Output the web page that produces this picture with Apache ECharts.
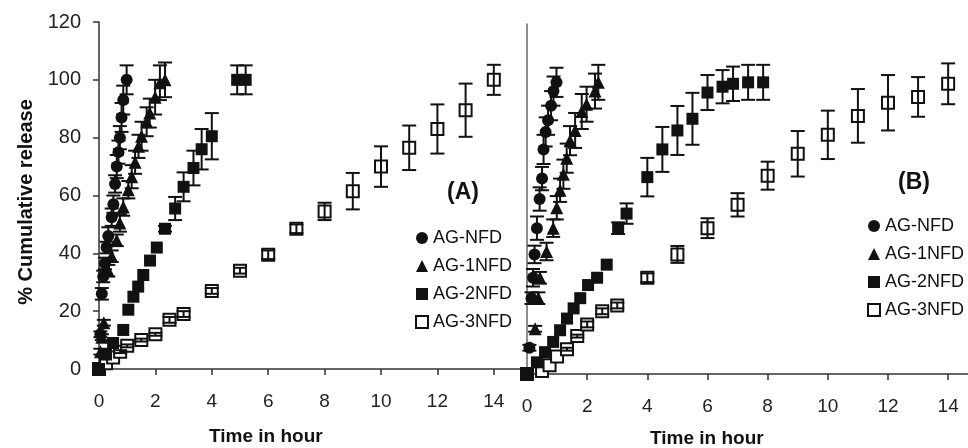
<!DOCTYPE html>
<html>
<head>
<meta charset="utf-8">
<script src="https://cdn.jsdelivr.net/npm/echarts@6/dist/echarts.min.js"></script>
<style>
  html, body { margin: 0; padding: 0; background: #fff; }
  #chart { width: 968px; height: 448px; }
</style>
</head>
<body>
<div id="chart"></div>
<script>
var seriesNames = ['AG-NFD', 'AG-1NFD', 'AG-2NFD', 'AG-3NFD'];
var xTicks = [0, 2, 4, 6, 8, 10, 12, 14];

// panel (A)
var aNfdT = [0, 0.05, 0.1, 0.15, 0.21, 0.27, 0.33, 0.45, 0.51, 0.57, 0.63, 0.69, 0.74, 0.8, 0.86, 0.98];
var aNfdV = [0, 12, 26, 32, 36.5, 42, 46, 52.5, 57, 64, 70, 75, 80, 87, 93, 100];
var aNfdE = [0, 1, 2, 2, 2, 2, 3, 3, 3, 3, 4, 4, 4, 5, 5, 5];

var a1NfdT = [0, 0.05, 0.1, 0.17, 0.33, 0.45, 0.63, 0.74, 0.86, 1.04, 1.16, 1.28, 1.4, 1.51, 1.69, 1.8, 1.99, 2.16, 2.34];
var a1NfdV = [0, 6, 11, 16, 34, 39, 44.5, 50.5, 56, 62, 66.5, 71.5, 77, 80.5, 85.5, 88.5, 94, 99, 100];
var a1NfdE = [0, 1, 1, 1, 2, 2, 2, 3, 3, 3, 4, 4, 4, 5, 5, 5, 6, 6, 6];

var a2NfdT = [0, 0.25, 0.5, 0.86, 1.04, 1.22, 1.39, 1.57, 1.81, 2.05, 2.34, 2.7, 3.0, 3.35, 3.64, 4.0, 4.9, 5.2];
var a2NfdV = [0, 5, 9, 13.5, 20.5, 25, 28.5, 32.5, 37.5, 42, 48.5, 55.5, 63, 69.5, 76, 80.5, 100, 100];
var a2NfdE = [0, 0, 0, 0, 0, 0, 0, 0, 0, 0, 1, 4, 5, 6, 7, 8, 5, 5];

var a3NfdT = [0, 0.25, 0.5, 0.75, 1, 1.5, 2, 2.5, 3, 4, 5, 6, 7, 8, 9, 10, 11, 12, 13, 14];
var a3NfdV = [0, 2, 4, 6, 8, 10, 12, 17, 19, 27, 34, 39.5, 48.5, 54.5, 61.5, 70, 76.5, 83, 89.5, 100];
var a3NfdE = [0, 0, 0, 0.5, 0.5, 0.5, 0.5, 1, 1, 1, 1, 1.5, 1.5, 3, 6.3, 7, 7.7, 8.5, 9.2, 5.2];

// panel (B)
var bNfdT = [0, 0.08, 0.15, 0.2, 0.25, 0.33, 0.42, 0.5, 0.55, 0.62, 0.7, 0.8, 0.88, 0.98];
var bNfdV = [0, 9, 26, 33, 41, 50, 60, 67, 77, 83, 87, 92, 97, 100];
var bNfdE = [0, 1, 2, 3, 3, 4, 4, 4, 5, 5, 5, 5, 5, 5];

var b1NfdT = [0, 0.27, 0.38, 0.43, 0.65, 0.87, 0.99, 1.1, 1.21, 1.32, 1.43, 1.6, 1.82, 1.98, 2.26, 2.37];
var b1NfdV = [0, 15.5, 26, 33, 42, 50, 57, 63, 68.5, 74, 80, 83.5, 90, 92.5, 97, 100];
var b1NfdE = [0, 1, 2, 2, 3, 3, 4, 4, 5, 5, 5, 6, 6, 6, 6, 6];

var b2NfdT = [0, 0.33, 0.6, 0.87, 1.1, 1.33, 1.55, 1.77, 2.03, 2.33, 2.65, 3.03, 3.31, 4, 4.5, 5, 5.5, 6, 6.5, 6.85, 7.35, 7.85];
var b2NfdV = [0, 4, 7.5, 11, 15, 19, 22.5, 26, 30.5, 33, 37.5, 50, 55, 67.5, 77, 83.5, 87.5, 96.5, 98.5, 99.5, 100, 100];
var b2NfdE = [0, 0, 0, 0, 0, 0, 0, 0, 0, 0, 0, 2, 3.5, 6.6, 7.7, 8.4, 8.9, 6, 5.7, 5.9, 6, 6];

var b3NfdT = [0, 0.5, 0.75, 1, 1.33, 1.67, 2, 2.5, 3, 4, 5, 6, 7, 8, 9, 10, 11, 12, 13, 14];
var b3NfdV = [0, 1, 3, 6, 8.5, 13, 17, 21.5, 23.5, 33, 41, 50, 58, 68, 75.5, 82, 88.5, 93, 95, 99.5];
var b3NfdE = [0, 0, 0, 0, 0.5, 0.5, 1, 1, 1, 1.5, 2.9, 3.4, 4, 4.8, 7.8, 8.3, 9.2, 9.5, 6.8, 7];

var ink = '#111';
var font = 'Liberation Sans, Arial, sans-serif';

function pts(t, v, e) {
    return t.map(function (x, i) { return [x, v[i], e[i]]; });
}

function errorBars(params, api) {
    var e = api.value(2);
    if (!e) return null;
    var x = api.value(0), y = api.value(1);
    var hi = api.coord([x, y + e]);
    var lo = api.coord([x, y - e]);
    var w = 7;
    var st = { stroke: ink, lineWidth: 2 };
    return {
        type: 'group',
        children: [
            { type: 'line', shape: { x1: hi[0], y1: hi[1], x2: lo[0], y2: lo[1] }, style: st },
            { type: 'line', shape: { x1: hi[0] - w, y1: hi[1], x2: hi[0] + w, y2: hi[1] }, style: st },
            { type: 'line', shape: { x1: lo[0] - w, y1: lo[1], x2: lo[0] + w, y2: lo[1] }, style: st }
        ]
    };
}

var symbols = ['circle', 'triangle', 'rect', 'rect'];
var sizes = [12, 13, 12, 12];
var styles = [
    { color: ink, opacity: 1 },
    { color: ink, opacity: 1 },
    { color: ink, opacity: 1 },
    { color: '#fff', borderColor: ink, borderWidth: 2, opacity: 1 }
];

var panels = [
    [pts(aNfdT, aNfdV, aNfdE), pts(a1NfdT, a1NfdV, a1NfdE), pts(a2NfdT, a2NfdV, a2NfdE), pts(a3NfdT, a3NfdV, a3NfdE)],
    [pts(bNfdT, bNfdV, bNfdE), pts(b1NfdT, b1NfdV, b1NfdE), pts(b2NfdT, b2NfdV, b2NfdE), pts(b3NfdT, b3NfdV, b3NfdE)]
];

// open squares first so the filled marks sit on top of them
var drawOrder = [3, 0, 1, 2];
var series = [];
panels.forEach(function (panel, p) {
    drawOrder.forEach(function (k) {
        var data = panel[k];
        series.push({
            name: seriesNames[k],
            type: 'scatter',
            xAxisIndex: p,
            yAxisIndex: p,
            symbol: symbols[k],
            symbolSize: sizes[k],
            itemStyle: styles[k],
            data: data,
            z: 2
        });
        series.push({
            type: 'custom',
            xAxisIndex: p,
            yAxisIndex: p,
            renderItem: errorBars,
            encode: { x: 0, y: 1 },
            data: data,
            silent: true,
            z: 3
        });
    });
});

function xLabel(v) {
    return xTicks.indexOf(v) >= 0 ? String(v) : '';
}

var xAxisCommon = {
    type: 'value',
    min: 0,
    interval: 2,
    splitLine: { show: false },
    axisLine: { onZero: false, lineStyle: { color: '#333', width: 1.5 } },
    axisTick: { length: 6, lineStyle: { color: '#333', width: 1.5 } },
    axisLabel: { formatter: xLabel, color: '#222', fontSize: 19, fontFamily: font, margin: 23, showMaxLabel: false }
};

var legendCommon = {
    data: seriesNames, orient: 'vertical',
    itemWidth: 12, itemHeight: 12, itemGap: 10,
    textStyle: { fontSize: 18, fontFamily: font, color: ink }
};

var chart = echarts.init(document.getElementById('chart'));
chart.setOption({
    animation: false,
    backgroundColor: '#fff',
    grid: [
        { left: 99, top: 22, width: 423, height: 347 },
        { left: 527, top: 24, right: 0, height: 350 }
    ],
    xAxis: [
        Object.assign({}, xAxisCommon, { gridIndex: 0, max: 15 }),
        Object.assign({}, xAxisCommon, { gridIndex: 1, max: 14.66 })
    ],
    yAxis: [
        {
            type: 'value', gridIndex: 0, min: 0, max: 120, interval: 20,
            splitLine: { show: false },
            axisLine: { show: true, lineStyle: { color: '#333', width: 1.5 } },
            axisTick: { show: true, length: 6, lineStyle: { color: '#333', width: 1.5 } },
            axisLabel: { color: '#222', fontSize: 20, fontFamily: font, margin: 18 }
        },
        {
            type: 'value', gridIndex: 1, min: 0, max: 120, interval: 20, offset: 4,
            splitLine: { show: false },
            axisLine: { show: true, lineStyle: { color: '#666', width: 1.5 } },
            axisTick: { show: false },
            axisLabel: { show: false }
        }
    ],
    legend: [
        Object.assign({}, legendCommon, { left: 410, top: 224 }),
        Object.assign({}, legendCommon, { left: 862, top: 212 })
    ],
    graphic: [
        { type: 'text', left: 447, top: 181, style: { text: '(A)', font: 'bold 23px ' + font, fill: ink } },
        { type: 'text', left: 898, top: 171, style: { text: '(B)', font: 'bold 23px ' + font, fill: ink } },
        { type: 'text', left: 209, top: 427, style: { text: 'Time in hour', font: 'bold 19px ' + font, fill: ink } },
        { type: 'text', left: 650, top: 429, style: { text: 'Time in hour', font: 'bold 19px ' + font, fill: ink } },
        {
            type: 'text', x: 26, y: 202, rotation: Math.PI / 2,
            style: { text: '% Cumulative release', font: 'bold 20px ' + font, fill: ink, align: 'center', verticalAlign: 'middle' }
        }
    ],
    series: series
});
</script>
</body>
</html>
